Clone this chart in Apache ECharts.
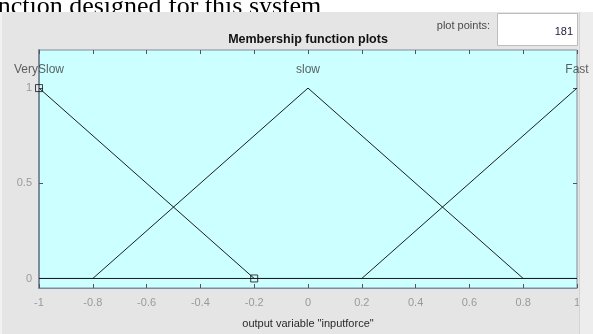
<!DOCTYPE html>
<html>
<head>
<meta charset="utf-8">
<script src="https://cdn.jsdelivr.net/npm/echarts@6/dist/echarts.min.js"></script>
<style>
  html, body { margin: 0; padding: 0; background: #ffffff; }
  #chart { width: 593px; height: 334px; }
</style>
</head>
<body>
<div id="chart"></div>
<script>
// Output variable "inputforce": three triangular membership functions on [-1, 1]
const outputName = 'inputforce';
const plotPoints = 181;

const xTicks = [-1, -0.8, -0.6, -0.4, -0.2, 0, 0.2, 0.4, 0.6, 0.8, 1];
const yTicks = [0, 0.5, 1];

const mfNames = ['VerySlow', 'slow', 'Fast'];
const mfPeaks = [-1, 0, 1];

// Vertices of each membership function (x, membership degree)
const verySlowX = [-1, -0.2, 1];
const verySlowY = [1, 0, 0];
const slowX = [-1, -0.8, 0, 0.8, 1];
const slowY = [0, 0, 1, 0, 0];
const fastX = [-1, 0.2, 1];
const fastY = [0, 0, 1];

// Handles of the selected function
const handleX = [-1, -0.2];
const handleY = [1, 0];

const zip = (xs, ys) => xs.map((x, i) => [x, ys[i]]);

const chart = echarts.init(document.getElementById('chart'), null, { renderer: 'canvas' });

const lineColor = '#1c1c1c';
const labelGrey = '#9a9a9a';
const frameColor = '#7d8c9c';
const sans = 'Liberation Sans, Arial, sans-serif';

const mfLine = (name, xs, ys) => ({
  name: name,
  type: 'line',
  data: zip(xs, ys),
  symbol: 'none',
  lineStyle: { color: lineColor, width: 1 },
  z: 3,
  silent: true,
  animation: false
});

chart.setOption({
  animation: false,
  backgroundColor: '#e5e5e5',
  grid: {
    left: 39, top: 50, width: 538, height: 247,
    show: true,
    backgroundColor: '#ccffff',
    borderColor: frameColor,
    borderWidth: 1
  },
  graphic: [
    { type: 'rect', shape: { x: 0, y: 0, width: 593, height: 12 }, style: { fill: '#ffffff' }, z: 1 },
    { type: 'text', x: -24, y: 7, z: 2,
      style: { text: 'function designed for this system', font: '26px "Liberation Serif", "Times New Roman", serif',
               fill: '#000000', textVerticalAlign: 'middle', textAlign: 'left' } },
    { type: 'rect', shape: { x: 0, y: 12, width: 593, height: 14 }, style: { fill: '#e5e5e5' }, z: 3 },
    { type: 'rect', shape: { x: 0, y: 12, width: 2, height: 322 }, style: { fill: '#f2f2f2' }, z: 3 },
    { type: 'rect', shape: { x: 580, y: 12, width: 13, height: 322 }, style: { fill: '#ededed' }, z: 3 },
    { type: 'rect', shape: { x: 579, y: 12, width: 1, height: 322 }, style: { fill: '#d4d4d4' }, z: 3 },
    // plot points field
    { type: 'text', x: 490, y: 26, z: 4,
      style: { text: 'plot points:', font: '11px ' + sans, fill: '#4a4a4a', textAlign: 'right', textVerticalAlign: 'middle' } },
    { type: 'rect', shape: { x: 497.5, y: 13.5, width: 80, height: 32 }, z: 4,
      style: { fill: '#ffffff', stroke: '#bdbdbd', lineWidth: 1 } },
    { type: 'text', x: 573, y: 32, z: 5,
      style: { text: String(plotPoints), font: '11px ' + sans, fill: '#1a1a3a', textAlign: 'right', textVerticalAlign: 'middle' } },
    // panel title
    { type: 'text', x: 308, y: 40, z: 4,
      style: { text: 'Membership function plots', font: 'bold 12.5px ' + sans, fill: '#111111', textAlign: 'center', textVerticalAlign: 'middle' } }
  ],
  xAxis: [
    {
      type: 'value', min: -1, max: 1, interval: 0.2, position: 'bottom',
      name: 'output variable "' + outputName + '"',
      nameLocation: 'middle', nameGap: 30,
      nameTextStyle: { color: '#2a2a2a', fontSize: 11, fontFamily: sans },
      axisLine: { show: true, onZero: false, lineStyle: { color: frameColor, width: 1 } },
      axisTick: { show: true, inside: true, length: 4, lineStyle: { color: '#555555' } },
      axisLabel: { color: labelGrey, fontSize: 11, fontFamily: sans, margin: 9,
                   formatter: v => String(Math.round(v * 10) / 10) },
      splitLine: { show: false }
    },
    {
      type: 'value', min: -1, max: 1, interval: 0.2, position: 'top',
      axisLine: { show: false, onZero: false },
      axisTick: { show: true, inside: true, length: 4, lineStyle: { color: '#555555' } },
      axisLabel: { show: false },
      splitLine: { show: false }
    }
  ],
  yAxis: [
    {
      type: 'value', min: -0.05, max: 1.2, position: 'left',
      axisLine: { show: true, onZero: false, lineStyle: { color: frameColor, width: 2 } },
      axisTick: { show: true, inside: true, length: 4, customValues: yTicks, lineStyle: { color: '#555555' } },
      axisLabel: { color: labelGrey, fontSize: 11, fontFamily: sans, margin: 7, customValues: yTicks,
                   formatter: v => String(v) },
      splitLine: { show: false }
    },
    {
      type: 'value', min: -0.05, max: 1.2, position: 'right',
      axisLine: { show: false, onZero: false },
      axisTick: { show: true, inside: true, length: 4, customValues: yTicks, lineStyle: { color: '#555555' } },
      axisLabel: { show: false },
      splitLine: { show: false }
    }
  ],
  series: [
    mfLine(mfNames[0], verySlowX, verySlowY),
    mfLine(mfNames[1], slowX, slowY),
    mfLine(mfNames[2], fastX, fastY),
    {
      type: 'scatter',
      data: zip(handleX, handleY),
      symbol: 'rect',
      symbolSize: 7,
      itemStyle: { color: 'rgba(0,0,0,0)', borderColor: '#111111', borderWidth: 1 },
      clip: false,
      z: 4,
      silent: true
    },
    {
      type: 'scatter',
      data: mfPeaks.map((x, i) => ({ value: [x, 1], name: mfNames[i] })),
      symbolSize: 0,
      clip: false,
      z: 5,
      silent: true,
      label: {
        show: true, position: 'top', distance: 12,
        formatter: p => p.name,
        color: '#3a3a3a', fontSize: 12, fontFamily: sans
      }
    }
  ]
});
</script>
</body>
</html>
